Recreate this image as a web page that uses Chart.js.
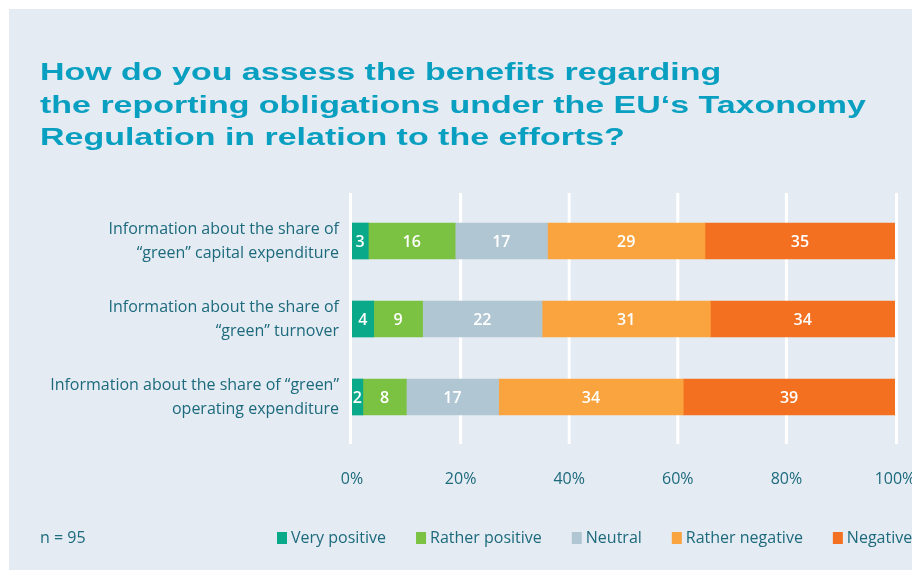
<!DOCTYPE html>
<html>
<head>
<meta charset="utf-8">
<script src="https://cdn.jsdelivr.net/npm/chart.js@4/dist/chart.umd.min.js"></script>
<style>
  html, body { margin: 0; padding: 0; background: #fff; }
  #wrap { width: 912px; height: 570px; }
</style>
</head>
<body>
<div id="wrap"><canvas id="chart" width="912" height="570"></canvas></div>
<script>
const titleLines = [
  'How do you assess the benefits regarding',
  'the reporting obligations under the EU‘s Taxonomy',
  'Regulation in relation to the efforts?'
];
const categories = [
  ['Information about the share of', '“green” capital expenditure'],
  ['Information about the share of', '“green” turnover'],
  ['Information about the share of “green”', 'operating expenditure']
];
const seriesNames = ['Very positive', 'Rather positive', 'Neutral', 'Rather negative', 'Negative'];
const veryPositive = [3, 4, 2];
const ratherPositive = [16, 9, 8];
const neutral = [17, 22, 17];
const ratherNegative = [29, 31, 34];
const negative = [35, 34, 39];
const xTicks = [0, 20, 40, 60, 80, 100];
const sampleNote = 'n = 95';

const colors = ['#0aa98a', '#7cc242', '#b0c6d2', '#f9a43f', '#f37021'];
const textColor = '#1c6a7c';
const titleColor = '#089fc0';
const panelColor = '#e4ebf3';
const baseFont = '"Open Sans", sans-serif';

const seriesValues = [veryPositive, ratherPositive, neutral, ratherNegative, negative];

// panel, title, gridlines, bar values and legend
const decor = {
  id: 'decor',
  beforeDraw(chart) {
    const ctx = chart.ctx;
    ctx.save();
    ctx.fillStyle = panelColor;
    ctx.fillRect(9, 9, chart.width - 9, chart.height - 9);

    // wide heading face: stretch a bold sans horizontally
    ctx.fillStyle = titleColor;
    ctx.font = 'bold 24px "Liberation Sans", Arial, sans-serif';
    ctx.textBaseline = 'alphabetic';
    const sx = 1.415;
    ctx.scale(sx, 1);
    titleLines.forEach((line, i) => {
      ctx.fillText(line, 40 / sx, 80 + i * 32.5);
    });
    ctx.restore();
  },
  beforeDatasetsDraw(chart) {
    const ctx = chart.ctx;
    const x = chart.scales.x;
    const area = chart.chartArea;
    ctx.save();
    ctx.strokeStyle = '#ffffff';
    ctx.lineWidth = 3;
    xTicks.forEach(v => {
      let px = x.getPixelForValue(v);
      if (v === x.min) px -= 1.5;
      if (v === x.max) px += 1.5;
      ctx.beginPath();
      ctx.moveTo(px, area.top - 9);
      ctx.lineTo(px, area.bottom + 8);
      ctx.stroke();
    });
    ctx.restore();
  },
  afterDatasetsDraw(chart) {
    const ctx = chart.ctx;
    ctx.save();
    ctx.fillStyle = '#ffffff';
    ctx.font = '600 16px ' + baseFont;
    ctx.textAlign = 'center';
    ctx.textBaseline = 'middle';
    chart.data.datasets.forEach((ds, di) => {
      chart.getDatasetMeta(di).data.forEach((bar, i) => {
        ctx.fillText(String(ds.data[i]), (bar.x + bar.base) / 2, bar.y + 1);
      });
    });

    // legend row along the bottom
    ctx.font = '16px ' + baseFont;
    ctx.textAlign = 'left';
    ctx.fillStyle = textColor;
    const y = 538;
    ctx.fillText(sampleNote, 40, y);
    let left = 277;
    chart.data.datasets.forEach(ds => {
      ctx.fillStyle = ds.backgroundColor;
      ctx.fillRect(left, y - 6, 10, 12);
      ctx.fillStyle = textColor;
      ctx.fillText(ds.label, left + 14, y);
      left += 14 + ctx.measureText(ds.label).width + 30;
    });
    ctx.restore();
  }
};

new Chart(document.getElementById('chart'), {
  type: 'bar',
  data: {
    labels: categories,
    datasets: seriesNames.map((name, i) => ({
      label: name,
      data: seriesValues[i],
      backgroundColor: colors[i],
      borderWidth: 0,
      barThickness: 36
    }))
  },
  options: {
    indexAxis: 'y',
    responsive: false,
    animation: false,
    layout: { padding: { top: 202, right: 17, bottom: 0, left: 0 } },
    plugins: {
      legend: { display: false },
      tooltip: { enabled: false }
    },
    scales: {
      x: {
        stacked: true,
        min: 0,
        max: 100,
        grid: { display: false, drawTicks: false },
        border: { display: false },
        afterBuildTicks: s => { s.ticks = xTicks.map(v => ({ value: v })); },
        afterFit: s => { s.height = 134; s.paddingLeft = 0; s.paddingRight = 0; },
        ticks: {
          padding: 34,
          color: textColor,
          font: { family: baseFont, size: 16 },
          callback: v => v + '%'
        }
      },
      y: {
        stacked: true,
        grid: { display: false, drawTicks: false },
        border: { display: false },
        afterFit: s => { s.width = 352; },
        ticks: {
          padding: 13,
          color: textColor,
          font: { family: baseFont, size: 16, lineHeight: 1.5 }
        }
      }
    }
  },
  plugins: [decor]
});
</script>
</body>
</html>
